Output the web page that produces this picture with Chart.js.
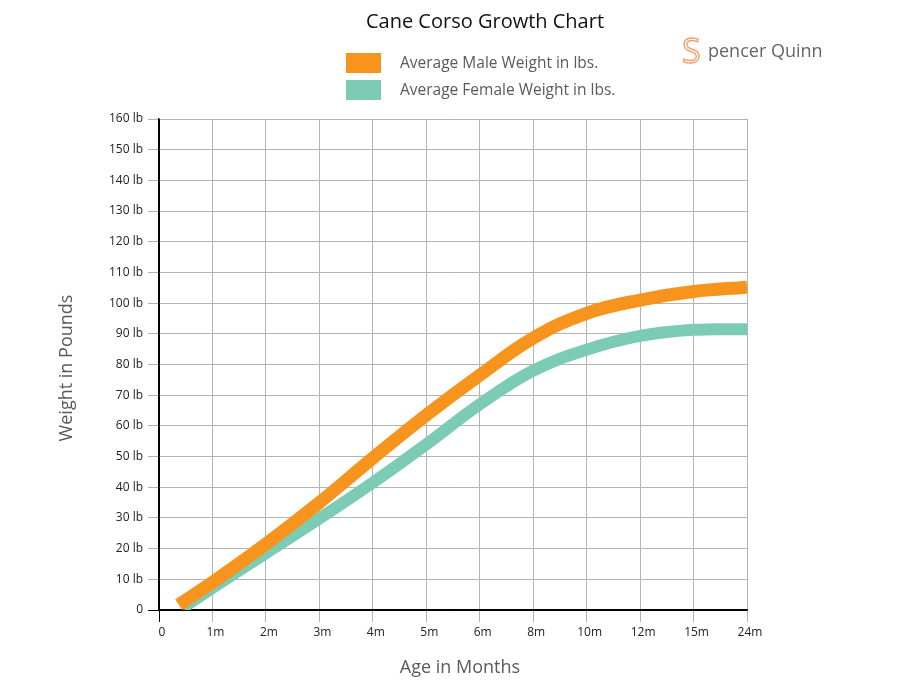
<!DOCTYPE html>
<html>
<head>
<meta charset="utf-8">
<script src="https://cdn.jsdelivr.net/npm/chart.js@4.4.1/dist/chart.umd.min.js"></script>
<style>
  html, body { margin: 0; padding: 0; background: #fff; }
  #wrap { width: 900px; height: 700px; }
</style>
</head>
<body>
<div id="wrap"><canvas id="c" width="900" height="700"></canvas></div>
<script>
// ---- data ----
const ageLabels = ['0', '1m', '2m', '3m', '4m', '5m', '6m', '8m', '10m', '12m', '15m', '24m'];
const yTickValues = [0, 10, 20, 30, 40, 50, 60, 70, 80, 90, 100, 110, 120, 130, 140, 150, 160];
// age positions (index on the age axis) and weights in lbs
const maleAgePos = [0.37, 1, 2, 3, 4, 5, 6, 7, 8, 9, 10, 11];
const maleWeight = [1.7, 9, 21.5, 35, 49.5, 63.5, 76.5, 88.6, 96.7, 101, 103.8, 105.2];
const femaleAgePos = [0.45, 1, 2, 3, 4, 5, 6, 7, 8, 9, 10, 11];
const femaleWeight = [0.8, 7.2, 18.5, 29.8, 41.5, 54, 67, 78, 84.8, 89.3, 91.3, 91.5];
const seriesNames = ['Average Male Weight in lbs.', 'Average Female Weight in lbs.'];
const chartTitle = 'Cane Corso Growth Chart';
const xTitle = 'Age in Months';
const yTitle = 'Weight in Pounds';

const MALE_COLOR = '#F7941E';
const FEMALE_COLOR = '#7CCBB4';
const FONT = '"Open Sans", "DejaVu Sans", sans-serif';

function toPoints(xs, ys) { return xs.map((x, i) => ({ x: x, y: ys[i] })); }

const textPlugin = {
  id: 'texts',
  afterDraw(chart) {
    const ctx = chart.ctx;
    ctx.save();
    // title
    ctx.fillStyle = '#111';
    ctx.font = '20px ' + FONT;
    ctx.textAlign = 'center';
    ctx.textBaseline = 'middle';
    ctx.fillText(chartTitle, 485, 22);

    // legend
    const colors = [MALE_COLOR, FEMALE_COLOR];
    const rowsY = [63, 90];
    ctx.font = '15.5px ' + FONT;
    ctx.textAlign = 'left';
    for (let i = 0; i < 2; i++) {
      ctx.fillStyle = colors[i];
      ctx.fillRect(346, rowsY[i] - 10, 35, 20);
      ctx.fillStyle = '#5a5a5a';
      ctx.fillText(seriesNames[i], 400, rowsY[i] + 1);
    }

    // logo
    ctx.font = '34px ' + FONT;
    ctx.strokeStyle = '#F2A06E';
    ctx.lineWidth = 1.4;
    ctx.textBaseline = 'alphabetic';
    ctx.strokeText('S', 682, 63);
    ctx.fillStyle = '#666';
    ctx.font = '18px ' + FONT;
    ctx.fillText('pencer Quinn', 708, 57);

    // axis titles
    ctx.fillStyle = '#5a5a5a';
    ctx.font = '18px ' + FONT;
    ctx.textAlign = 'center';
    ctx.textBaseline = 'middle';
    ctx.fillText(xTitle, 460, 668);
    ctx.translate(67, 368);
    ctx.rotate(-Math.PI / 2);
    ctx.fillText(yTitle, 0, 0);
    ctx.restore();
  }
};

new Chart(document.getElementById('c'), {
  type: 'line',
  data: {
    datasets: [
      {
        label: seriesNames[0],
        data: toPoints(maleAgePos, maleWeight),
        borderColor: MALE_COLOR,
        borderWidth: 13,
        borderCapStyle: 'butt',
        pointRadius: 0,
        fill: false,
        tension: 0.4
      },
      {
        label: seriesNames[1],
        data: toPoints(femaleAgePos, femaleWeight),
        borderColor: FEMALE_COLOR,
        borderWidth: 12,
        borderCapStyle: 'butt',
        pointRadius: 0,
        fill: false,
        tension: 0.4
      }
    ]
  },
  options: {
    responsive: false,
    animation: false,
    devicePixelRatio: 1,
    layout: { padding: { left: 0, right: 153, top: 119, bottom: 0 } },
    plugins: {
      legend: { display: false },
      title: { display: false },
      tooltip: { enabled: false }
    },
    scales: {
      x: {
        type: 'linear',
        min: 0,
        max: ageLabels.length - 1,
        afterBuildTicks(scale) {
          scale.ticks = ageLabels.map((_, i) => ({ value: i }));
        },
        afterFit(scale) { scale.height = 90; },
        ticks: {
          callback: (v) => ageLabels[v],
          font: { family: FONT, size: 12 },
          color: '#222',
          padding: 3,
          labelOffset: 3,
          maxRotation: 0,
          autoSkip: false
        },
        grid: {
          color: (c) => (c.index === 0 ? '#000' : '#b3b3b3'),
          lineWidth: 1,
          tickLength: 12,
          drawTicks: true
        },
        border: { display: true, color: '#000', width: 1.5 }
      },
      y: {
        min: 0,
        max: 160,
        afterBuildTicks(scale) {
          scale.ticks = yTickValues.map((v) => ({ value: v }));
        },
        afterFit(scale) { scale.width = 159; },
        ticks: {
          callback: (v) => (v === 0 ? '0' : v + ' lb'),
          font: { family: FONT, size: 12 },
          color: '#222',
          padding: 5
        },
        grid: {
          color: (c) => (c.tick && c.tick.value === 0 ? '#000' : '#b3b3b3'),
          lineWidth: 1,
          tickLength: 11
        },
        border: { display: true, color: '#000', width: 1.5 }
      }
    }
  },
  plugins: [textPlugin]
});
</script>
</body>
</html>
